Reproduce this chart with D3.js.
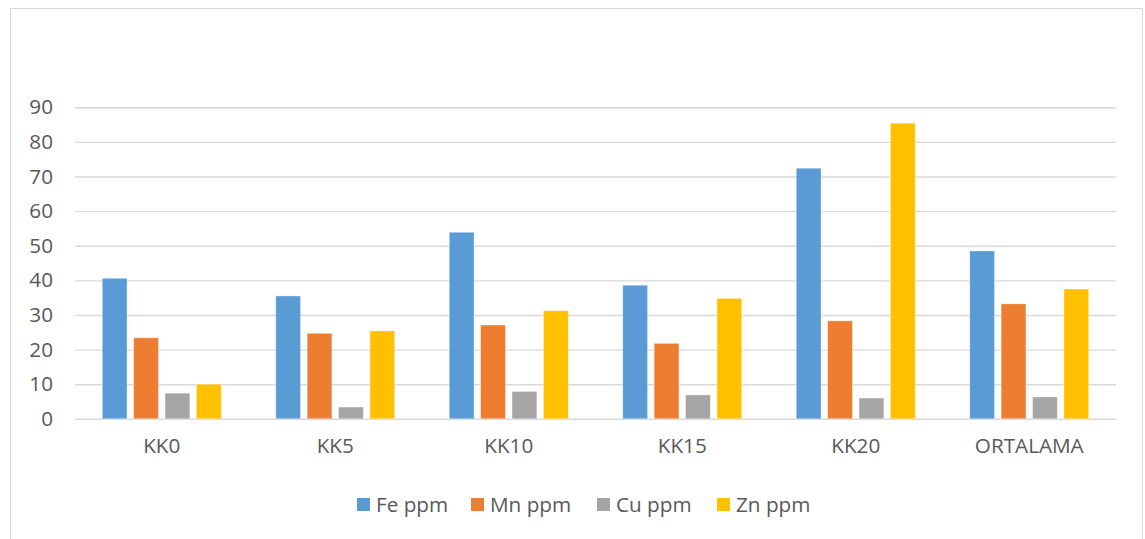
<!DOCTYPE html>
<html>
<head>
<meta charset="utf-8">
<script src="https://cdn.jsdelivr.net/npm/d3@7"></script>
<style>
  html, body { margin: 0; padding: 0; background: #fff; }
  svg { display: block; }
  text { font-family: "Open Sans", "Noto Sans", sans-serif; fill: #595959; }
</style>
</head>
<body>
<script>
const categories = ["KK0", "KK5", "KK10", "KK15", "KK20", "ORTALAMA"];
const seriesNames = ["Fe ppm", "Mn ppm", "Cu ppm", "Zn ppm"];
const fe = [40.6, 35.5, 53.9, 38.6, 72.4, 48.5];
const mn = [23.4, 24.7, 27.1, 21.8, 28.3, 33.2];
const cu = [7.4, 3.4, 7.9, 6.9, 6.0, 6.3];
const zn = [10.0, 25.4, 31.2, 34.8, 85.4, 37.5];
const yTicks = [0, 10, 20, 30, 40, 50, 60, 70, 80, 90];
const colors = ["#5b9bd5", "#ed7d31", "#a5a5a5", "#ffc000"];

const seriesValues = [fe, mn, cu, zn];
const W = 1145, H = 539;
const FS = 20.7;

const svg = d3.select("body").append("svg").attr("width", W).attr("height", H);

// chart border
svg.append("rect").attr("x", 10.5).attr("y", 8.5).attr("width", 1132).attr("height", 540)
  .attr("fill", "none").attr("stroke", "#d9d9d9").attr("stroke-width", 1);

const x = d3.scaleBand().domain(categories).range([75, 1116]).paddingInner(0).paddingOuter(0);
const xs = d3.scaleBand().domain(seriesNames).range([-59.5, 59.5]).paddingInner(0.21).paddingOuter(0);
const y = d3.scaleLinear().domain([0, 90]).range([418.8, 107.3]);

// gridlines
const yAxis = d3.axisLeft(y).tickValues(yTicks).tickSize(-(1116 - 75)).tickPadding(22);
const gy = svg.append("g").attr("transform", "translate(75,0)").call(yAxis);
gy.select(".domain").remove();
gy.selectAll(".tick line").attr("stroke", "#d9d9d9").attr("stroke-width", 1.4);
gy.selectAll(".tick text").attr("font-size", FS).attr("fill", "#595959")
  .attr("font-family", "'Open Sans', sans-serif");

// bars
const groups = svg.append("g").selectAll("g").data(categories).join("g")
  .attr("transform", d => `translate(${x(d) + x.bandwidth() / 2},0)`);

groups.selectAll("rect")
  .data((c, i) => seriesNames.map((s, j) => ({ s, j, v: seriesValues[j][i] })))
  .join("rect")
  .attr("x", d => xs(d.s))
  .attr("width", xs.bandwidth())
  .attr("y", d => y(d.v))
  .attr("height", d => y(0) - y(d.v))
  .attr("fill", d => colors[d.j])
  .attr("stroke", "#ffffff").attr("stroke-opacity", 0.45).attr("stroke-width", 0.8);

// x axis labels
const xAxis = d3.axisBottom(x).tickSize(0).tickPadding(19.5);
const gx = svg.append("g").attr("transform", `translate(0,${y(0)})`).call(xAxis);
gx.select(".domain").remove();
gx.selectAll(".tick text").attr("font-size", FS).attr("fill", "#595959")
  .attr("font-family", "'Open Sans', sans-serif");

// legend
const legendX = [357, 471, 597, 717];
const lg = svg.append("g").selectAll("g").data(seriesNames).join("g")
  .attr("transform", (d, i) => `translate(${legendX[i]},498)`);
lg.append("rect").attr("width", 13).attr("height", 13).attr("fill", (d, i) => colors[i]);
lg.append("text").attr("x", 19).attr("y", 13.8).attr("font-size", FS).text(d => d);
</script>
</body>
</html>
